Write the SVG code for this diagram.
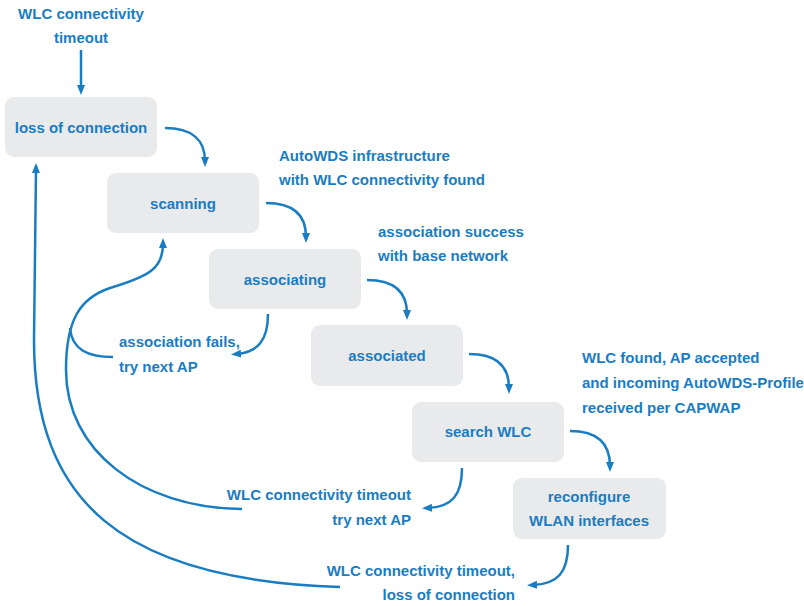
<svg xmlns="http://www.w3.org/2000/svg" width="804" height="606" viewBox="0 0 804 606">
<defs>
<style>
.box{fill:#e9eaec;}
.t{font-family:"Liberation Sans",Arial,sans-serif;font-weight:bold;font-size:15px;fill:#1a7dc2;}
.c{text-anchor:middle;}
.r{text-anchor:end;}
.ln{fill:none;stroke:#1a7dc2;stroke-width:2.5;marker-end:url(#ah);}
.nl{fill:none;stroke:#1a7dc2;stroke-width:2.5;}
</style>
<marker id="ah" markerUnits="userSpaceOnUse" markerWidth="11" markerHeight="9" refX="4" refY="4" orient="auto">
<path d="M0,0 L10,4 L0,8 z" fill="#1a7dc2"/>
</marker>
</defs>
<rect width="804" height="606" fill="#ffffff"/>

<g id="n-loss">
<rect class="box" x="5" y="97" width="152" height="60" rx="9"/>
<text class="t c" x="81" y="133">loss of connection</text>
</g>
<g id="n-scanning">
<rect class="box" x="107" y="173" width="152" height="60" rx="9"/>
<text class="t c" x="183" y="209">scanning</text>
</g>
<g id="n-associating">
<rect class="box" x="209" y="249" width="152" height="60" rx="9"/>
<text class="t c" x="285" y="285">associating</text>
</g>
<g id="n-associated">
<rect class="box" x="311" y="325" width="152" height="61" rx="9"/>
<text class="t c" x="387" y="361">associated</text>
</g>
<g id="n-search">
<rect class="box" x="412" y="402" width="152" height="60" rx="9"/>
<text class="t c" x="488" y="437">search WLC</text>
</g>
<g id="n-reconfigure">
<rect class="box" x="513" y="478" width="153" height="61" rx="9"/>
<text class="t c" x="589" y="502">reconfigure</text>
<text class="t c" x="589" y="526">WLAN interfaces</text>
</g>

<g id="connectors">
<path class="ln" d="M81,50 L81,89"/>
<path class="ln" d="M165,128 C192,128 205,140 205,161"/>
<path class="ln" d="M266,203 C293,203 306,215 306,237"/>
<path class="ln" d="M367,280 C394,280 407,292 407,314"/>
<path class="ln" d="M469,354 C496,354 509,366 509,388"/>
<path class="ln" d="M570,431 C597,431 610,443 610,466"/>
<path class="ln" d="M268,314 C268,340 258,352 237,354"/>
<path class="ln" d="M462,468 C462,495 452,507 428,508"/>
<path class="ln" d="M568,545 C568,572 558,584 533,585"/>
<path class="ln" d="M242,509 C140,508 66,450 66,370 C66,320 80,298 110,288 C150,276 163,268 163,244"/>
<path class="nl" d="M113,357 C88,357 72,350 70,328"/>
<path class="ln" d="M340,587 C120,580 34,500 34,340 L36,169"/>
</g>

<g id="labels">
<text class="t c" x="81" y="19">WLC connectivity</text>
<text class="t c" x="81" y="43">timeout</text>
<text class="t" x="279" y="161">AutoWDS infrastructure</text>
<text class="t" x="279" y="185">with WLC connectivity found</text>
<text class="t" x="378" y="237">association success</text>
<text class="t" x="378" y="261">with base network</text>
<text class="t" x="119" y="347">association fails,</text>
<text class="t" x="119" y="372">try next AP</text>
<text class="t" x="582" y="363">WLC found, AP accepted</text>
<text class="t" x="582" y="388">and incoming AutoWDS-Profile</text>
<text class="t" x="582" y="413">received per CAPWAP</text>
<text class="t r" x="411" y="500">WLC connectivity timeout</text>
<text class="t r" x="411" y="525">try next AP</text>
<text class="t r" x="515" y="576">WLC connectivity timeout,</text>
<text class="t r" x="515" y="600">loss of connection</text>
</g>
</svg>
